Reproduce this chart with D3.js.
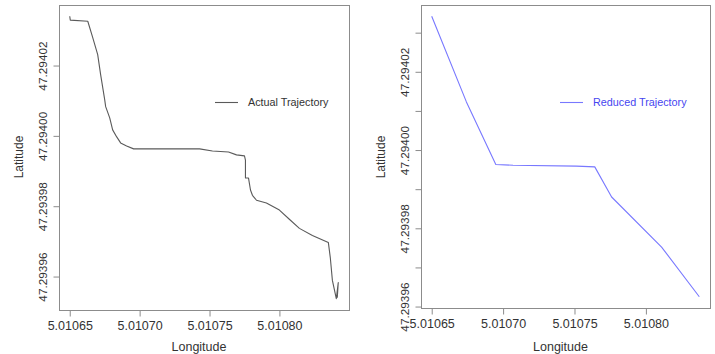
<!DOCTYPE html>
<html>
<head>
<meta charset="utf-8">
<script src="https://cdn.jsdelivr.net/npm/d3@7"></script>
<style>
    body { margin: 0; background: #fff; }
    svg { display: block; font-family: "Liberation Sans", Arial, sans-serif; }
</style>
</head>
<body>
<div id="chart"></div>
<script>
(function(){
    'use strict';

    // actual GPS track (longitude / latitude)
    var actualLon = [5.0106500, 5.0106504, 5.0106629, 5.0106664, 5.0106700, 5.0106721, 5.0106750, 5.0106757,
        5.0106786, 5.0106807, 5.0106836, 5.0106864, 5.0106907, 5.0106957, 5.0107429, 5.0107521,
        5.0107636, 5.0107693, 5.0107750, 5.0107757, 5.0107757, 5.0107779, 5.0107793, 5.0107807,
        5.0107836, 5.0107907, 5.0108000, 5.0108071, 5.0108143, 5.0108236, 5.0108350, 5.0108364,
        5.0108379, 5.0108407, 5.0108421, 5.0108414];
    var actualLat = [47.2940340, 47.2940329, 47.2940326, 47.2940280, 47.2940231, 47.2940174, 47.2940103, 47.2940083,
        47.2940051, 47.2940017, 47.2939997, 47.2939980, 47.2939971, 47.2939963, 47.2939963, 47.2939957,
        47.2939954, 47.2939946, 47.2939943, 47.2939931, 47.2939880, 47.2939880, 47.2939846, 47.2939831,
        47.2939817, 47.2939809, 47.2939789, 47.2939763, 47.2939737, 47.2939717, 47.2939697, 47.2939654,
        47.2939589, 47.2939537, 47.2939583, 47.2939540];

    // reduced track
    var reducedLon = [5.0106500, 5.0106743, 5.0106949, 5.0107070, 5.0107514, 5.0107642, 5.0107760, 5.0108110, 5.0108374];
    var reducedLat = [47.2940342, 47.2940123, 47.2939963, 47.2939961, 47.2939959, 47.2939957, 47.2939880, 47.2939752, 47.2939625];

    var lonTicks = [5.01065, 5.01070, 5.01075, 5.01080];
    var latTicksLeft = [47.29396, 47.29398, 47.29400, 47.29402];
    var latTicksRight = [47.29396, 47.29397, 47.29398, 47.29399, 47.29400, 47.29401, 47.29402, 47.29403];

    var W = 715, H = 354;
    var svg = d3.select('#chart').append('svg')
        .attr('width', W)
        .attr('height', H);

    // R style range: data extent padded by 4%
    function padded(arr){
        var e = d3.extent(arr), p = (e[1]-e[0])*0.04;
        return [e[0]-p, e[1]+p];
    }

    function makePanel(opt){
        var g = svg.append('g');
        var x = d3.scaleLinear().domain(padded(opt.lon)).range([opt.left, opt.right]);
        var y = d3.scaleLinear().domain(padded(opt.lat)).range([opt.bottom, opt.top]);

        var pts = opt.lon.map(function(d, i){ return [d, opt.lat[i]]; });
        g.append('path')
            .datum(pts)
            .attr('fill', 'none')
            .attr('stroke', opt.color)
            .attr('stroke-width', 1.1)
            .attr('stroke-linejoin', 'round')
            .attr('d', d3.line().x(function(d){return x(d[0]);}).y(function(d){return y(d[1]);}));

        g.append('rect')
            .attr('x', opt.left + 0.5).attr('y', opt.top + 0.5)
            .attr('width', opt.right - opt.left).attr('height', opt.bottom - opt.top)
            .attr('fill', 'none').attr('stroke', '#8c8c8c').attr('stroke-width', 1);

        // x axis
        var xa = g.append('g')
            .attr('transform', 'translate(0,' + (opt.bottom + 0.5) + ')')
            .call(d3.axisBottom(x).tickValues(lonTicks).tickSize(6).tickSizeOuter(0).tickPadding(5)
                .tickFormat(d3.format('.5f')));
        xa.select('.domain').remove();
        xa.selectAll('line').attr('stroke', '#8c8c8c');
        xa.selectAll('text').attr('fill', '#333').style('font-size', '12.5px');

        // y axis, labels turned like in R
        var ya = g.append('g')
            .attr('transform', 'translate(' + (opt.left + 0.5) + ',0)')
            .call(d3.axisLeft(y).tickValues(opt.latTicks).tickSize(6).tickSizeOuter(0).tickPadding(0)
                .tickFormat(function(d){
                    var k = Math.round(d*1e5);
                    return (k % 2 === 0) ? d3.format('.5f')(d) : '';
                }));
        ya.select('.domain').remove();
        ya.selectAll('line').attr('stroke', '#8c8c8c');
        ya.selectAll('text')
            .attr('fill', '#333')
            .style('font-size', '11.8px')
            .attr('text-anchor', 'middle')
            .attr('x', 0).attr('dy', 0)
            .attr('transform', 'translate(-13,0) rotate(-90)');

        g.append('text')
            .attr('x', (opt.left + opt.right)/2 - 5).attr('y', H - 3)
            .attr('text-anchor', 'middle').attr('fill', '#333')
            .style('font-size', '12.5px')
            .text('Longitude');
        g.append('text')
            .attr('transform', 'translate(' + (opt.left - 36) + ',' + 157 + ') rotate(-90)')
            .attr('text-anchor', 'middle').attr('fill', '#333')
            .style('font-size', '12px')
            .text('Latitude');

        // legend
        g.append('line')
            .attr('x1', opt.legX).attr('x2', opt.legX + 23)
            .attr('y1', 102.5).attr('y2', 102.5)
            .attr('stroke', opt.color).attr('stroke-width', 1.1);
        g.append('text')
            .attr('x', opt.legX + 33).attr('y', 106)
            .attr('fill', opt.textColor)
            .style('font-size', '10.8px')
            .text(opt.label);
    }

    makePanel({
        lon: actualLon, lat: actualLat, latTicks: latTicksLeft,
        left: 59, right: 349, top: 5, bottom: 310,
        color: '#5a5a5a', textColor: '#333', label: 'Actual Trajectory', legX: 215
    });
    makePanel({
        lon: reducedLon, lat: reducedLat, latTicks: latTicksRight,
        left: 421, right: 710, top: 5, bottom: 308,
        color: '#7878ff', textColor: '#4646f0', label: 'Reduced Trajectory', legX: 560
    });
}());
</script>
</body>
</html>
